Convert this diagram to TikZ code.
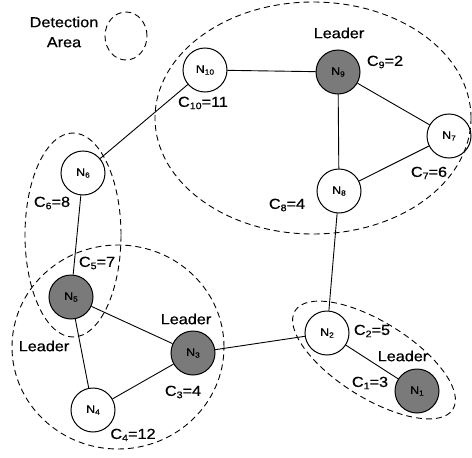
\documentclass[tikz,border=0pt]{standalone}
\usepackage{fontspec}
\setmainfont{Liberation Sans}[FakeStretch=1.12,FakeBold=0.6]
\newcommand\lsub[1]{\raisebox{-0.3ex}{\fontsize{9.5}{9.5}\selectfont #1}}
\newcommand\nsub[1]{\raisebox{-0.3ex}{\fontsize{7.5}{7.5}\selectfont #1}}
\begin{document}
\begin{tikzpicture}[x=1pt,y=-1pt,
  nd/.style={circle,draw,line width=1pt,minimum size=44pt,inner sep=0pt,font=\fontsize{11}{11}\selectfont},
  ld/.style={nd,fill=black!52},
  lab/.style={inner sep=0pt,font=\fontsize{14.5}{20}\selectfont},
  area/.style={dashed,dash pattern=on 6pt off 4pt,line width=0.9pt},
  edge/.style={line width=0.9pt}]
\useasboundingbox (0,0) rectangle (472,458);
% dashed areas
\draw[area] (126,36) ellipse [x radius=21pt,y radius=24pt];
\draw[area] (313,118) ellipse [x radius=158pt,y radius=116pt];
\draw[area] (73,235) ellipse [x radius=48pt,y radius=102pt];
\draw[area] (118,347) ellipse [x radius=106pt,y radius=102pt];
\draw[area,rotate around={-32:(374,360)}] (374,360) ellipse [x radius=93pt,y radius=38pt];
% nodes
\node[nd] (n10) at (205,70) {N\nsub{10}};
\node[ld] (n9) at (338,72) {N\nsub{9}};
\node[nd] (n7) at (449,136) {N\nsub{7}};
\node[nd] (n8) at (339,191) {N\nsub{8}};
\node[nd] (n6) at (83,173) {N\nsub{6}};
\node[ld] (n5) at (71,297) {N\nsub{5}};
\node[ld] (n3) at (193,353) {N\nsub{3}};
\node[nd] (n4) at (93,410) {N\nsub{4}};
\node[nd] (n2) at (327,333) {N\nsub{2}};
\node[ld] (n1) at (417,391) {N\nsub{1}};
% edges
\draw[edge] (n10) -- (n9);
\draw[edge] (n10) -- (n6);
\draw[edge] (n9) -- (n7);
\draw[edge] (n9) -- (n8);
\draw[edge] (n7) -- (n8);
\draw[edge] (n8) -- (n2);
\draw[edge] (n6) -- (n5);
\draw[edge] (n5) -- (n3);
\draw[edge] (n5) -- (n4);
\draw[edge] (n4) -- (n3);
\draw[edge] (n3) -- (n2);
\draw[edge] (n2) -- (n1);
% labels
\node[lab,align=center] (det) at (64,32) {Detection\\Area};
\node[lab] (c10) at (203,103) {C\lsub{10}=11};
\node[lab] (l9) at (339,33) {Leader};
\node[lab] (c9) at (385,62) {C\lsub{9}=2};
\node[lab] (c7) at (429,173) {C\lsub{7}=6};
\node[lab] (c8) at (287,205) {C\lsub{8}=4};
\node[lab] (c6) at (52,203) {C\lsub{6}=8};
\node[lab] (c5) at (97,263) {C\lsub{5}=7};
\node[lab] (l5) at (44,346) {Leader};
\node[lab] (l3) at (186,319) {Leader};
\node[lab] (c3) at (183,392) {C\lsub{3}=4};
\node[lab] (c4) at (133,435) {C\lsub{4}=12};
\node[lab] (c2) at (372,331) {C\lsub{2}=5};
\node[lab] (l1) at (403,356) {Leader};
\node[lab] (c1) at (370,383) {C\lsub{1}=3};
\end{tikzpicture}
\end{document}
